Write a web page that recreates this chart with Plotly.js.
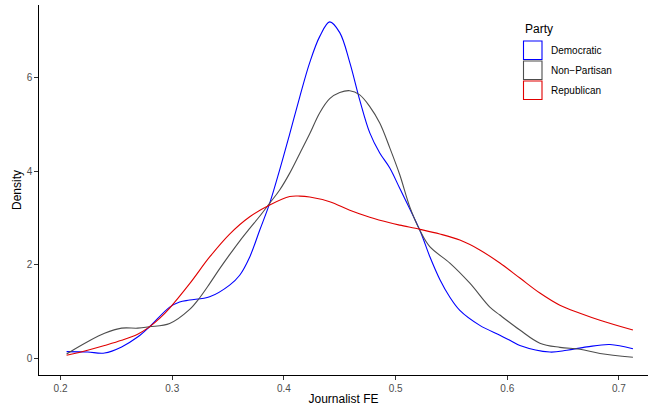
<!DOCTYPE html>
<html>
<head>
<meta charset="utf-8">
<script src="https://cdn.plot.ly/plotly-3.0.1.min.js"></script>
<style>html,body{margin:0;padding:0;background:#fff;}#chart{width:649px;height:408px;}</style>
</head>
<body>
<div id="chart"></div>
<script>
// ---- Data ----
const partyNames = ["Democratic", "Non\u2212Partisan", "Republican"];

const demX = [0.2054,0.2242,0.2394,0.2547,0.2690,0.2797,0.2977,0.3066,0.3156,0.3335,0.3514,0.3604,0.3694,0.3783,0.3873,0.3962,0.4052,0.4142,0.4231,0.4321,0.4410,0.4500,0.4590,0.4679,0.4769,0.4858,0.4948,0.5038,0.5217,0.5306,0.5396,0.5486,0.5575,0.5754,0.5934,0.6023,0.6113,0.6382,0.6534,0.6713,0.6919,0.7125];
const demY = [0.15,0.14,0.12,0.25,0.46,0.68,1.10,1.21,1.25,1.32,1.57,1.78,2.17,2.74,3.32,4.03,4.80,5.59,6.32,6.88,7.19,6.96,6.32,5.52,4.82,4.39,4.07,3.63,2.74,2.18,1.69,1.31,1.03,0.71,0.50,0.39,0.28,0.14,0.18,0.25,0.30,0.21];

const npX = [0.2054,0.2242,0.2394,0.2547,0.2690,0.2797,0.2977,0.3156,0.3246,0.3335,0.3425,0.3514,0.3604,0.3694,0.3783,0.3873,0.3962,0.4052,0.4142,0.4231,0.4321,0.4410,0.4500,0.4590,0.4679,0.4769,0.4858,0.4948,0.5038,0.5127,0.5217,0.5306,0.5486,0.5665,0.5844,0.5934,0.6113,0.6292,0.6471,0.6651,0.6830,0.7125];
const npY = [0.10,0.36,0.54,0.65,0.65,0.68,0.75,1.05,1.30,1.60,1.92,2.22,2.51,2.78,3.04,3.32,3.60,3.96,4.38,4.80,5.25,5.55,5.68,5.72,5.63,5.38,5.03,4.50,3.92,3.24,2.74,2.39,2.04,1.61,1.10,0.93,0.61,0.33,0.24,0.20,0.11,0.03];

const repX = [0.2054,0.2242,0.2394,0.2547,0.2690,0.2780,0.2887,0.2977,0.3156,0.3335,0.3514,0.3694,0.3873,0.4052,0.4142,0.4231,0.4410,0.4590,0.4769,0.4948,0.5038,0.5217,0.5396,0.5575,0.5754,0.5934,0.6113,0.6292,0.6471,0.6651,0.6830,0.7125];
const repY = [0.07,0.18,0.28,0.39,0.52,0.65,0.86,1.08,1.60,2.17,2.66,3.03,3.28,3.46,3.47,3.45,3.35,3.17,3.02,2.90,2.85,2.76,2.66,2.53,2.32,2.04,1.72,1.40,1.14,0.97,0.82,0.61];

const xTickVals = [0.2,0.3,0.4,0.5,0.6,0.7];
const xTickText = ["0.2","0.3","0.4","0.5","0.6","0.7"];
const yTickVals = [0,2,4,6];
const yTickText = ["0","2","4","6"];

// ---- Style ----
const colors = ["#0000ff", "#4d4d4d", "#e00000"];
const FONT = "Liberation Sans, Arial, Helvetica, sans-serif";
const W = 649, H = 408;
const M = {l: 39, r: 1, t: 5, b: 33};
const pw = W - M.l - M.r, ph = H - M.t - M.b;
const px2x = p => (p - M.l) / pw;
const py2y = p => (H - M.b - p) / ph;

const series = [[demX, demY], [npX, npY], [repX, repY]];
const traces = series.map((s, i) => ({
  type: "scatter", mode: "lines",
  x: s[0], y: s[1],
  name: partyNames[i],
  line: {color: colors[i], width: 1.1, shape: "spline", smoothing: 1},
  showlegend: false, hoverinfo: "skip"
}));

// manual ggplot-style legend
const shapes = [];
const annotations = [{
  text: "Party", xref: "paper", yref: "paper",
  x: px2x(522.5), y: py2y(29), xanchor: "left", yanchor: "middle",
  showarrow: false, font: {family: FONT, size: 12, color: "#000"}
}];
partyNames.forEach((n, i) => {
  const top = 41 + i * 20, bot = top + 18.5;
  shapes.push({
    type: "rect", xref: "paper", yref: "paper",
    x0: px2x(523.5), x1: px2x(542), y0: py2y(bot), y1: py2y(top),
    line: {color: colors[i], width: 1.1}, fillcolor: "#ffffff"
  });
  annotations.push({
    text: n, xref: "paper", yref: "paper",
    x: px2x(548.5), y: py2y((top + bot) / 2), xanchor: "left", yanchor: "middle",
    showarrow: false, font: {family: FONT, size: 10, color: "#000"}
  });
});

const layout = {
  width: W, height: H,
  margin: M,
  paper_bgcolor: "#fff", plot_bgcolor: "#fff",
  font: {family: FONT},
  showlegend: false,
  xaxis: {
    range: [0.1807, 0.726], tickvals: xTickVals, ticktext: xTickText,
    showgrid: false, zeroline: false,
    showline: true, linecolor: "#000", linewidth: 1.1,
    ticks: "outside", ticklen: 3.5, tickwidth: 1, tickcolor: "#333",
    tickfont: {family: FONT, size: 10, color: "#4d4d4d"},
    title: {text: "Journalist FE", font: {family: FONT, size: 12, color: "#000"}, standoff: 2},
    automargin: false
  },
  yaxis: {
    range: [-0.35, 7.55], tickvals: yTickVals, ticktext: yTickText,
    showgrid: false, zeroline: false,
    showline: true, linecolor: "#000", linewidth: 1.1,
    ticks: "outside", ticklen: 3.5, tickwidth: 1, tickcolor: "#333",
    tickfont: {family: FONT, size: 10, color: "#4d4d4d"},
    title: {text: "Density", font: {family: FONT, size: 12, color: "#000"}, standoff: 2},
    automargin: false
  },
  shapes: shapes,
  annotations: annotations
};

Plotly.newPlot("chart", traces, layout, {staticPlot: true, displayModeBar: false});
</script>
</body>
</html>
